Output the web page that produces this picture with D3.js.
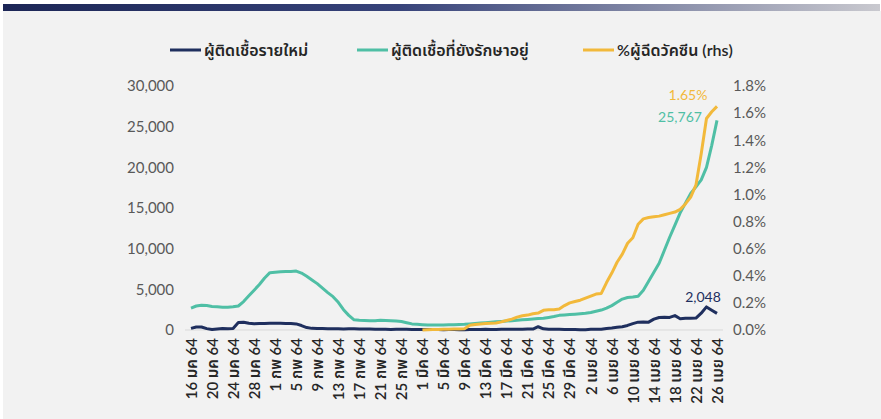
<!DOCTYPE html>
<html>
<head>
<meta charset="utf-8">
<script src="https://cdn.jsdelivr.net/npm/d3@7"></script>
<style>
  body { margin: 0; background: #fff; }
  text { font-family: Lato, "Noto Sans Thai", "Noto Sans", sans-serif; }
</style>
</head>
<body>
<div id="chart"></div>
<script>
// daily series, 16 Jan 2021 .. 26 Apr 2021
var firstDay = "2021-01-16";
var lastDay  = "2021-04-26";
var vaccFirstDay = "2021-03-01";

var tickLabels = ["16 มค 64","20 มค 64","24 มค 64","28 มค 64","1 กพ 64","5 กพ 64","9 กพ 64",
  "13 กพ 64","17 กพ 64","21 กพ 64","25 กพ 64","1 มีค 64","5 มีค 64","9 มีค 64","13 มีค 64",
  "17 มีค 64","21 มีค 64","25 มีค 64","29 มีค 64","2 เมย 64","6 เมย 64","10 เมย 64",
  "14 เมย 64","18 เมย 64","22 เมย 64","26 เมย 64"];

var seriesNames = ["ผู้ติดเชื้อรายใหม่", "ผู้ติดเชื้อที่ยังรักษาอยู่", "%ผู้ฉีดวัคซีน (rhs)"];

var newCases = [200,374,369,171,59,134,198,149,198,914,
  959,819,756,802,805,834,836,830,806,795,
  750,550,300,200,190,170,150,160,140,130,
  150,143,120,110,110,100,90,80,70,100,
  90,80,70,60,50,60,70,50,40,60,
  50,40,30,50,60,70,80,60,70,90,
  80,100,90,80,110,120,400,150,100,90,
  80,70,60,50,40,
  26,84,89,84,194,250,334,405,559,789,967,985,965,1335,1543,1582,1547,1767,1390,1443,1458,1470,2070,2839,2438,2048];

var activeCases = [2700,2950,3050,3000,2900,2850,2800,2800,2850,2950,
  3500,4200,4900,5600,6400,7050,7100,7150,7200,7200,
  7250,7000,6600,6150,5700,5150,4600,4100,3400,2500,
  1800,1250,1200,1180,1150,1150,1200,1180,1150,1100,
  1050,900,750,700,650,600,600,600,620,640,
  650,680,700,750,800,850,900,950,1000,1050,
  1100,1150,1200,1250,1300,1350,1400,1450,1550,1650,
  1800,1850,1900,1950,2000,2050,2150,2300,2450,2700,
  3000,3400,3800,4000,4050,4150,4900,6000,7100,8200,
  9800,11400,12900,14400,15600,16800,17600,18450,20000,22700,
  25767];

var vaccPct = [0.000,0.002,0.003,0.004,0.005,0.006,0.007,0.008,0.010,0.035,
  0.040,0.045,0.048,0.050,0.052,0.060,0.070,0.080,0.095,0.105,
  0.110,0.120,0.125,0.145,0.150,0.150,0.155,0.180,0.200,0.210,
  0.220,0.235,0.250,0.265,0.270,0.350,0.420,0.500,0.560,0.640,
  0.680,0.780,0.820,0.830,0.835,0.840,0.850,0.860,0.870,0.890,
  0.930,0.980,1.070,1.300,1.560,1.610,1.650];

var colors = ["#1f2f5e", "#4fbfa5", "#f2b93b"];

var width = 881, height = 419;
var parse = d3.timeParse("%Y-%m-%d");
var days = d3.timeDay.range(parse(firstDay), d3.timeDay.offset(parse(lastDay), 1));
var vaccDays = d3.timeDay.range(parse(vaccFirstDay), d3.timeDay.offset(parse(lastDay), 1));

var x  = d3.scaleTime().domain([days[0], days[days.length - 1]]).range([191, 717]);
var yL = d3.scaleLinear().domain([0, 30000]).range([330, 86]);
var yR = d3.scaleLinear().domain([0, 1.8]).range([330, 86]);

var svg = d3.select("#chart").append("svg")
  .attr("width", width).attr("height", height);

// backdrop + header bar
var grad = svg.append("defs").append("linearGradient").attr("id", "bar");
grad.append("stop").attr("offset", "0%").attr("stop-color", "#1c2656");
grad.append("stop").attr("offset", "45%").attr("stop-color", "#37437a");
grad.append("stop").attr("offset", "100%").attr("stop-color", "#c9c9cf");
svg.append("rect").attr("x", 3).attr("y", 11).attr("width", width - 3).attr("height", height - 11).attr("fill", "#f2f2f2");
svg.append("rect").attr("x", 3).attr("y", 4).attr("width", width - 4).attr("height", 7).attr("fill", "url(#bar)");

// axes
var axisL = d3.axisLeft(yL).ticks(6).tickFormat(d3.format(",")).tickSize(0).tickPadding(0);
var gL = svg.append("g").attr("transform", "translate(174,0)").call(axisL);
gL.select(".domain").remove();
gL.selectAll("text").attr("font-size", 15).attr("fill", "#595959");

var axisR = d3.axisRight(yR).ticks(9).tickFormat(function(d) { return d.toFixed(1) + "%"; }).tickSize(0).tickPadding(0);
var gR = svg.append("g").attr("transform", "translate(733,0)").call(axisR);
gR.select(".domain").remove();
gR.selectAll("text").attr("font-size", 15).attr("fill", "#595959");

svg.append("line").attr("x1", 185).attr("x2", 723).attr("y1", yL(0)).attr("y2", yL(0))
  .attr("stroke", "#d9d9d9").attr("stroke-width", 1);

var tickDays = days.filter(function(d, i) { return i % 4 === 0; });
var axisX = d3.axisBottom(x).tickValues(tickDays).tickSize(0)
  .tickFormat(function(d, i) { return tickLabels[i]; });
var gX = svg.append("g").attr("transform", "translate(0,338)").call(axisX);
gX.select(".domain").remove();
gX.selectAll("text")
  .attr("transform", "rotate(-90)")
  .attr("x", 0).attr("y", 0).attr("dy", "0.35em")
  .attr("text-anchor", "end")
  .attr("font-size", 15).attr("font-weight", 600).attr("fill", "#262626");

// lines
var lineL = d3.line().x(function(d) { return x(d[0]); }).y(function(d) { return yL(d[1]); });
var lineR = d3.line().x(function(d) { return x(d[0]); }).y(function(d) { return yR(d[1]); });

svg.append("path").datum(d3.zip(days, activeCases)).attr("d", lineL)
  .attr("fill", "none").attr("stroke", colors[1]).attr("stroke-width", 3).attr("stroke-linejoin", "round");
svg.append("path").datum(d3.zip(days, newCases)).attr("d", lineL)
  .attr("fill", "none").attr("stroke", colors[0]).attr("stroke-width", 3).attr("stroke-linejoin", "round");
svg.append("path").datum(d3.zip(vaccDays, vaccPct)).attr("d", lineR)
  .attr("fill", "none").attr("stroke", colors[2]).attr("stroke-width", 3).attr("stroke-linejoin", "round");

// end labels
var last = days[days.length - 1];
svg.append("text").attr("x", x(last) - 29).attr("y", yR(vaccPct[vaccPct.length - 1]) - 6)
  .attr("text-anchor", "middle").attr("font-size", 14).attr("fill", colors[2])
  .text(d3.format(".2f")(vaccPct[vaccPct.length - 1]) + "%");
svg.append("text").attr("x", x(last) - 37).attr("y", yL(activeCases[activeCases.length - 1]) + 2)
  .attr("text-anchor", "middle").attr("font-size", 14).attr("fill", colors[1])
  .text(d3.format(",")(activeCases[activeCases.length - 1]));
svg.append("text").attr("x", x(last) - 14).attr("y", yL(newCases[newCases.length - 1]) - 11)
  .attr("text-anchor", "middle").attr("font-size", 14).attr("fill", colors[0])
  .text(d3.format(",")(newCases[newCases.length - 1]));

// legend
var legendX = [170, 357, 583];
var legend = svg.append("g").selectAll("g").data(seriesNames).enter().append("g")
  .attr("transform", function(d, i) { return "translate(" + legendX[i] + ",50)"; });
legend.append("line").attr("x1", 0).attr("x2", 31).attr("y1", 0).attr("y2", 0)
  .attr("stroke", function(d, i) { return colors[i]; }).attr("stroke-width", 3);
legend.append("text").attr("x", 34).attr("y", 0).attr("dy", "0.35em")
  .attr("font-size", 16).attr("font-weight", 600).attr("fill", "#262626")
  .text(function(d) { return d; });
</script>
</body>
</html>
